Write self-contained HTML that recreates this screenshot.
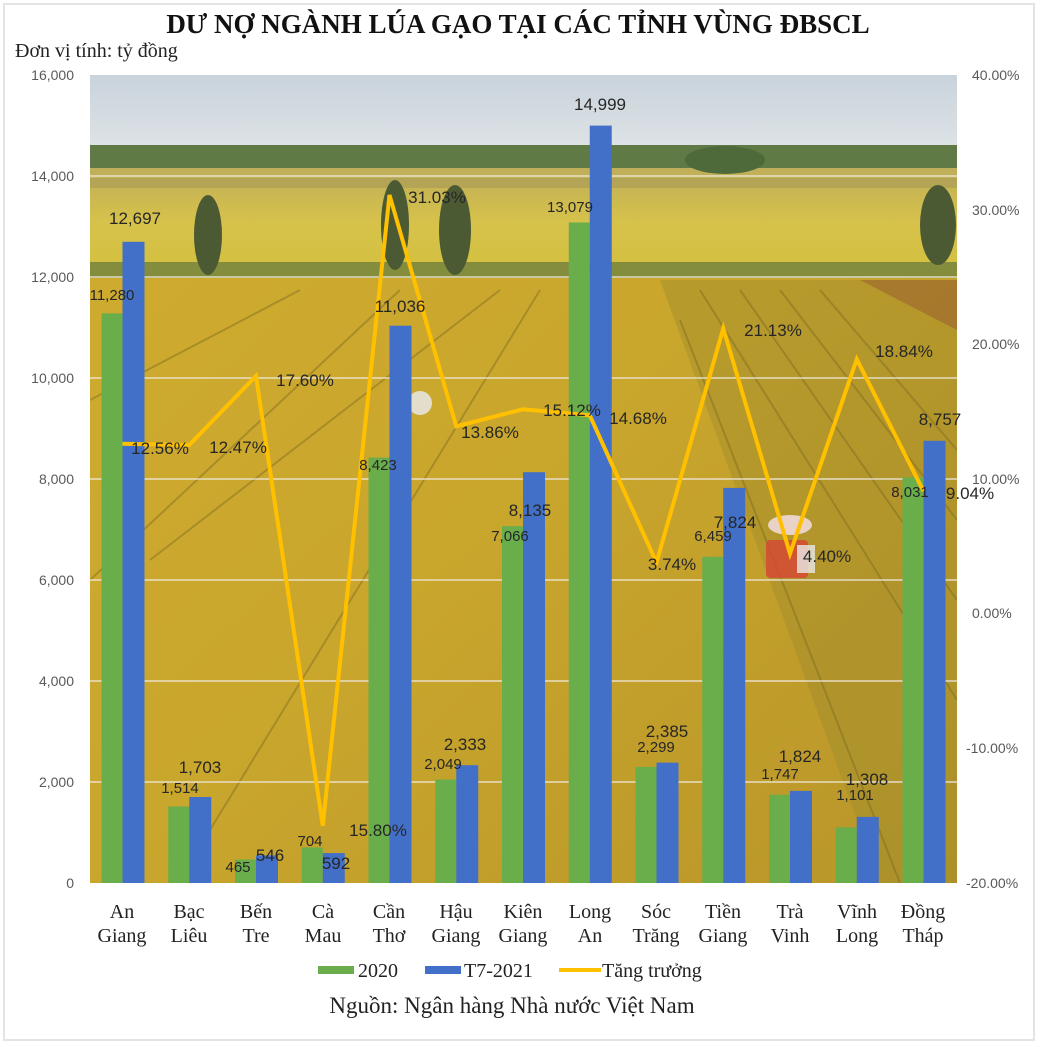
<!DOCTYPE html>
<html><head><meta charset="utf-8"><style>
html,body{margin:0;padding:0;background:#fff}
svg{display:block}
</style></head><body>
<svg width="1041" height="1047" viewBox="0 0 1041 1047" xmlns="http://www.w3.org/2000/svg">
<defs>
<linearGradient id="sky" x1="0" y1="0" x2="0" y2="1">
<stop offset="0" stop-color="#c9d3dc"/><stop offset="1" stop-color="#dde3e6"/>
</linearGradient>
<linearGradient id="far" x1="0" y1="0" x2="0" y2="1">
<stop offset="0" stop-color="#bfae5a"/><stop offset="0.5" stop-color="#d6c24a"/><stop offset="1" stop-color="#d3c03e"/>
</linearGradient>
<linearGradient id="field" x1="0" y1="0" x2="1" y2="1">
<stop offset="0" stop-color="#d0ad30"/><stop offset="0.5" stop-color="#c9a62c"/><stop offset="1" stop-color="#b89529"/>
</linearGradient>
<clipPath id="pc"><rect x="90" y="75" width="867" height="808"/></clipPath>
</defs>
<rect x="4" y="4" width="1030" height="1036" fill="#fff" stroke="#e4e4e4" stroke-width="2"/>
<g clip-path="url(#pc)">
<rect x="90" y="75" width="867" height="808" fill="url(#field)"/>
<rect x="90" y="75" width="867" height="72" fill="url(#sky)"/>
<rect x="90" y="145" width="867" height="25" fill="#5f7a45"/>
<rect x="90" y="168" width="867" height="110" fill="url(#far)"/>
<rect x="90" y="178" width="867" height="10" fill="#a99a55" opacity="0.6"/>
<rect x="90" y="262" width="867" height="16" fill="#6f7f3c" opacity="0.8"/>
<ellipse cx="208" cy="235" rx="14" ry="40" fill="#4c5a33"/>
<ellipse cx="455" cy="230" rx="16" ry="45" fill="#4c5a33"/>
<ellipse cx="395" cy="225" rx="14" ry="45" fill="#4c5a33"/>
<ellipse cx="938" cy="225" rx="18" ry="40" fill="#4c5a33"/>
<ellipse cx="725" cy="160" rx="40" ry="14" fill="#4f6a3a"/>
<polygon points="660,280 957,280 957,883 880,883" fill="#9c8a2c" opacity="0.4"/>
<polygon points="860,280 957,280 957,330" fill="#9a5a30" opacity="0.5"/>
<g stroke="#7d6a20" stroke-width="2" opacity="0.45" fill="none">
<line x1="90" y1="580" x2="400" y2="290"/>
<line x1="150" y1="560" x2="500" y2="290"/>
<line x1="210" y1="830" x2="540" y2="290"/>
<line x1="90" y1="400" x2="300" y2="290"/>
<line x1="700" y1="290" x2="957" y2="700"/>
<line x1="740" y1="290" x2="957" y2="600"/>
<line x1="780" y1="290" x2="957" y2="520"/>
<line x1="820" y1="290" x2="957" y2="450"/>
<line x1="680" y1="320" x2="900" y2="883"/>
</g>
<ellipse cx="790" cy="525" rx="22" ry="10" fill="#f0d8d8" opacity="0.9"/>
<rect x="766" y="540" width="42" height="38" rx="4" fill="#d44a35" opacity="0.85"/>
<rect x="797" y="545" width="18" height="28" fill="#e8e8e8" opacity="0.8"/>
<ellipse cx="420" cy="403" rx="12" ry="12" fill="#e8e8e8" opacity="0.85"/>
<g stroke="#efeade" stroke-width="1.5" opacity="0.85">
<line x1="90" y1="176" x2="957" y2="176"/><line x1="90" y1="277" x2="957" y2="277"/>
<line x1="90" y1="378" x2="957" y2="378"/><line x1="90" y1="479" x2="957" y2="479"/>
<line x1="90" y1="580" x2="957" y2="580"/><line x1="90" y1="681" x2="957" y2="681"/>
<line x1="90" y1="782" x2="957" y2="782"/>
</g>
</g>
<g fill="#6aae4c">
<rect x="101.5" y="313.4" width="21" height="569.6"/>
<rect x="168.25" y="806.5" width="21" height="76.5"/>
<rect x="235" y="859.5" width="21" height="23.5"/>
<rect x="301.75" y="847.4" width="21" height="35.6"/>
<rect x="368.5" y="457.6" width="21" height="425.4"/>
<rect x="435.25" y="779.5" width="21" height="103.5"/>
<rect x="502" y="526.2" width="21" height="356.8"/>
<rect x="568.75" y="222.5" width="21" height="660.5"/>
<rect x="635.5" y="766.9" width="21" height="116.1"/>
<rect x="702.25" y="556.8" width="21" height="326.2"/>
<rect x="769" y="794.8" width="21" height="88.2"/>
<rect x="835.75" y="827.4" width="21" height="55.6"/>
<rect x="902.5" y="477.4" width="21" height="405.6"/>
</g>
<g fill="#4270c8">
<rect x="122.5" y="241.8" width="22" height="641.2"/>
<rect x="189.25" y="797" width="22" height="86"/>
<rect x="256" y="855.4" width="22" height="27.6"/>
<rect x="322.75" y="853.1" width="22" height="29.9"/>
<rect x="389.5" y="325.7" width="22" height="557.3"/>
<rect x="456.25" y="765.2" width="22" height="117.8"/>
<rect x="523" y="472.2" width="22" height="410.8"/>
<rect x="589.75" y="125.6" width="22" height="757.4"/>
<rect x="656.5" y="762.6" width="22" height="120.4"/>
<rect x="723.25" y="487.9" width="22" height="395.1"/>
<rect x="790" y="790.9" width="22" height="92.1"/>
<rect x="856.75" y="816.9" width="22" height="66.1"/>
<rect x="923.5" y="440.8" width="22" height="442.2"/>
</g>
<polyline fill="none" stroke="#ffc000" stroke-width="4" stroke-linejoin="miter" points="122.5,443.8 189.25,445 256,375.9 322.75,825.8 389.5,195 456.25,426.3 523,409.3 589.75,415.3 656.5,562.6 723.25,328.4 790,553.7 856.75,359.2 923.5,491.2"/>
<g font-family="'Liberation Sans',sans-serif" fill="#262626" text-anchor="middle">
<g font-size="15">
<text x="112" y="300">11,280</text><text x="180" y="793">1,514</text><text x="238" y="872">465</text>
<text x="310" y="846">704</text><text x="378" y="470">8,423</text><text x="443" y="769">2,049</text>
<text x="510" y="541">7,066</text><text x="570" y="212">13,079</text><text x="656" y="752">2,299</text>
<text x="713" y="541">6,459</text><text x="780" y="779">1,747</text><text x="855" y="800">1,101</text>
<text x="910" y="497">8,031</text>
</g>
<g font-size="17">
<text x="135" y="224">12,697</text><text x="200" y="773">1,703</text><text x="270" y="861">546</text>
<text x="336" y="869">592</text><text x="400" y="312">11,036</text><text x="465" y="750">2,333</text>
<text x="530" y="516">8,135</text><text x="600" y="110">14,999</text><text x="667" y="737">2,385</text>
<text x="735" y="528">7,824</text><text x="800" y="762">1,824</text><text x="867" y="785">1,308</text>
<text x="940" y="425">8,757</text>
</g>
<g font-size="17">
<text x="160" y="454">12.56%</text><text x="238" y="453">12.47%</text><text x="305" y="386">17.60%</text>
<text x="378" y="836">15.80%</text><text x="437" y="203">31.03%</text><text x="490" y="438">13.86%</text>
<text x="572" y="416">15.12%</text><text x="638" y="424">14.68%</text><text x="672" y="570">3.74%</text>
<text x="773" y="336">21.13%</text><text x="827" y="562">4.40%</text><text x="904" y="357">18.84%</text>
<text x="970" y="499">9.04%</text>
</g>
</g>
<g font-family="'Liberation Sans',sans-serif" font-size="14" fill="#595959" text-anchor="end">
<text x="74" y="80">16,000</text><text x="74" y="181">14,000</text><text x="74" y="282">12,000</text>
<text x="74" y="383">10,000</text><text x="74" y="484">8,000</text><text x="74" y="585">6,000</text>
<text x="74" y="686">4,000</text><text x="74" y="787">2,000</text><text x="74" y="888">0</text>
</g>
<g font-family="'Liberation Sans',sans-serif" font-size="14" fill="#595959" text-anchor="start">
<text x="972" y="80">40.00%</text><text x="972" y="215">30.00%</text><text x="972" y="349">20.00%</text>
<text x="972" y="484">10.00%</text><text x="972" y="618">0.00%</text><text x="966" y="753">-10.00%</text>
<text x="966" y="888">-20.00%</text>
</g>
<g font-family="'Liberation Serif',serif" font-size="20" fill="#222" text-anchor="middle">
<text x="122" y="918">An</text><text x="122" y="942">Giang</text>
<text x="189" y="918">Bạc</text><text x="189" y="942">Liêu</text>
<text x="256" y="918">Bến</text><text x="256" y="942">Tre</text>
<text x="323" y="918">Cà</text><text x="323" y="942">Mau</text>
<text x="389" y="918">Cần</text><text x="389" y="942">Thơ</text>
<text x="456" y="918">Hậu</text><text x="456" y="942">Giang</text>
<text x="523" y="918">Kiên</text><text x="523" y="942">Giang</text>
<text x="590" y="918">Long</text><text x="590" y="942">An</text>
<text x="656" y="918">Sóc</text><text x="656" y="942">Trăng</text>
<text x="723" y="918">Tiền</text><text x="723" y="942">Giang</text>
<text x="790" y="918">Trà</text><text x="790" y="942">Vinh</text>
<text x="857" y="918">Vĩnh</text><text x="857" y="942">Long</text>
<text x="923" y="918">Đồng</text><text x="923" y="942">Tháp</text>
</g>
<rect x="318" y="966" width="36" height="8" fill="#6aae4c"/>
<rect x="425" y="966" width="36" height="8" fill="#4270c8"/>
<rect x="559" y="968" width="42" height="4" fill="#ffc000"/>
<g font-family="'Liberation Serif',serif" font-size="20" fill="#222">
<text x="358" y="977">2020</text><text x="464" y="977">T7-2021</text><text x="602" y="977">Tăng trưởng</text>
</g>
<text x="512" y="1013" text-anchor="middle" font-family="'Liberation Serif',serif" font-size="23" fill="#222">Nguồn: Ngân hàng Nhà nước Việt Nam</text>
<text x="518" y="33" text-anchor="middle" font-family="'Liberation Serif',serif" font-size="27" font-weight="bold" fill="#111">DƯ NỢ NGÀNH LÚA GẠO TẠI CÁC TỈNH VÙNG ĐBSCL</text>
<text x="15" y="57" font-family="'Liberation Serif',serif" font-size="20" fill="#222">Đơn vị tính: tỷ đồng</text>
</svg>
</body></html>
